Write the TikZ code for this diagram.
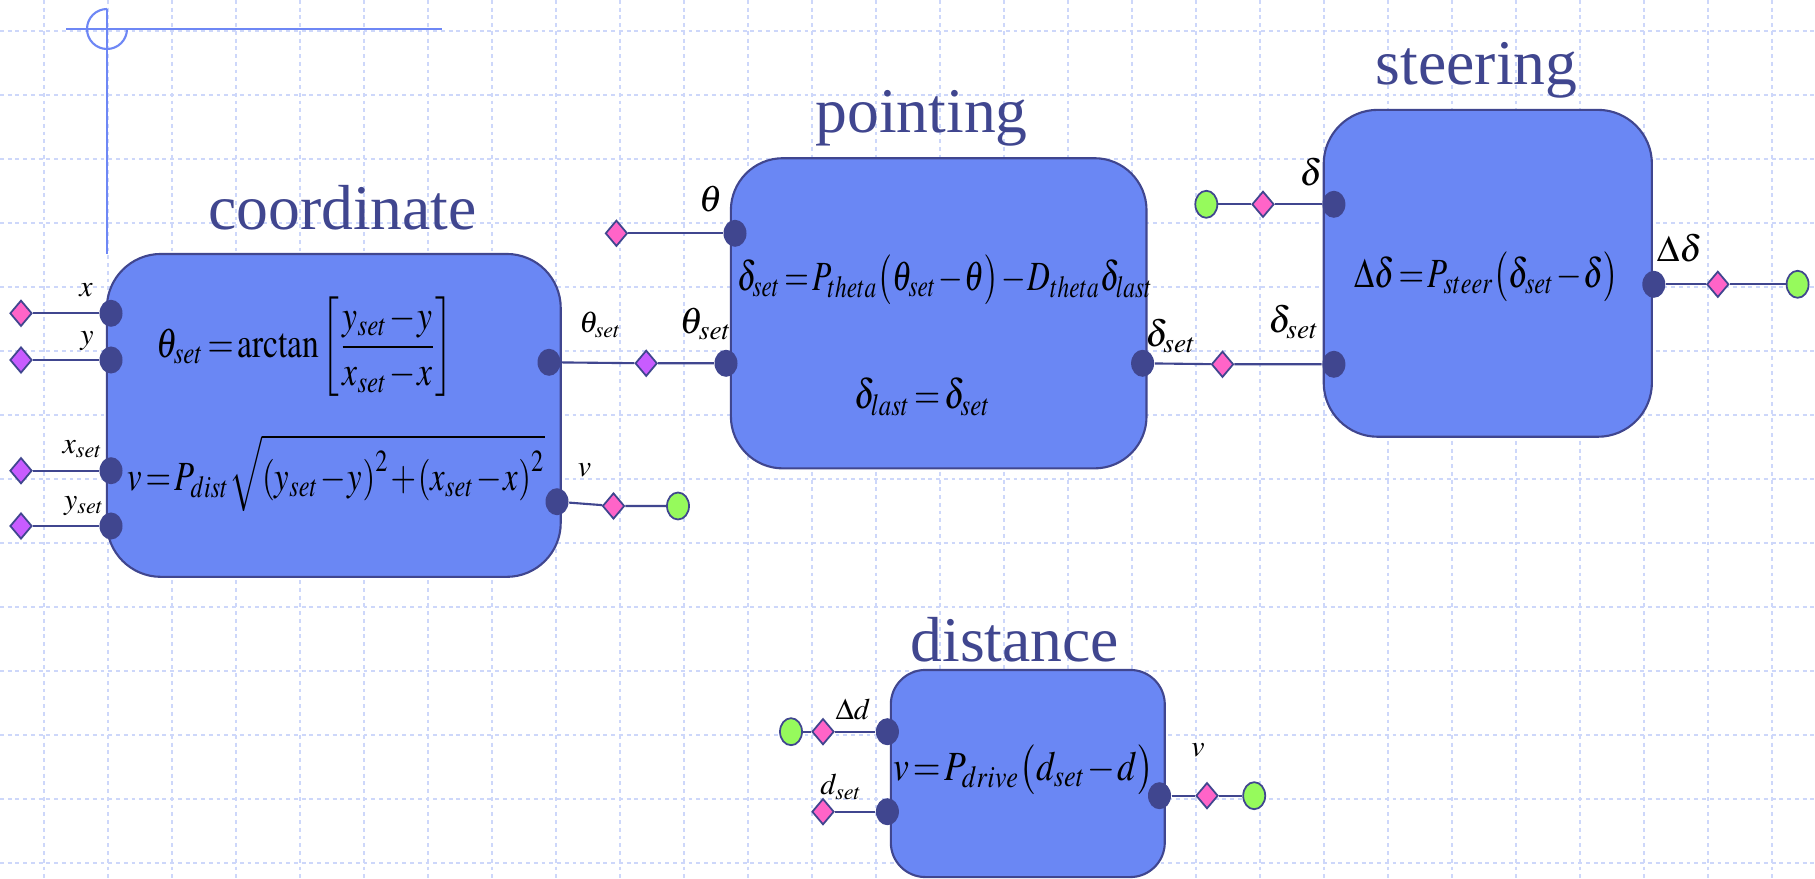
\documentclass[tikz,border=0pt]{standalone}
\usepackage{graphicx}
\usepackage{mathptmx}
\usepackage[no-math]{fontspec}
\setmainfont{Liberation Serif}
\usetikzlibrary{shapes.geometric}

\definecolor{boxfill}{RGB}{106,135,244}
\definecolor{navy}{RGB}{64,70,143}
\definecolor{pinkcol}{RGB}{255,100,200}
\definecolor{violetcol}{RGB}{200,92,255}
\definecolor{greencol}{RGB}{150,250,92}
\definecolor{axisblue}{RGB}{110,135,245}
\definecolor{gridblue}{RGB}{205,215,250}

\newcommand{\tightmu}{\thinmuskip=1mu\relax\medmuskip=1mu\relax\thickmuskip=2mu\relax}
% narrow the formulas like the old equation editor does
\newcommand{\squeeze}[2]{\scalebox{#1}[1]{$\tightmu #2$}}

\begin{document}
\begin{tikzpicture}[
        x=0.01cm, y=-0.01cm,
        block/.style={draw=navy, fill=boxfill, line width=0.6pt, inner sep=0pt},
        port/.style={ellipse, fill=navy, minimum width=0.23cm, minimum height=0.27cm, inner sep=0pt},
        dia/.style={diamond, draw=navy, line width=0.5pt, minimum width=0.22cm, minimum height=0.26cm, inner sep=0pt},
        pdia/.style={dia, fill=pinkcol},
        vdia/.style={dia, fill=violetcol},
        endpt/.style={ellipse, draw=navy, line width=0.5pt, fill=greencol, minimum width=0.22cm, minimum height=0.27cm, inner sep=0pt},
        wire/.style={draw=navy, line width=0.6pt},
        title/.style={text=navy, anchor=base, inner sep=0pt, font=\fontsize{18.1}{20}\selectfont},
        eqn/.style={inner sep=0pt, font=\fontsize{11.8}{14}\selectfont},
        lbl/.style={inner sep=0pt, font=\fontsize{10.5}{12}\selectfont},
        slbl/.style={inner sep=0pt, font=\fontsize{8.5}{10}\selectfont},
        gridline/.style={gridblue, line width=0.45pt, dash pattern=on 1.1pt off 1.1pt},
        axisline/.style={axisblue, line width=0.6pt}
        ]
      \fill[white] (0,0) rectangle (1815,879);
      \useasboundingbox (0,0) rectangle (1815,879);

      % grid
      \foreach \gx in {0,...,27}
        \draw[gridline] ({44+64*\gx},0) -- ({44+64*\gx},879);
      \foreach \gy in {0,...,13}
        \draw[gridline] (0,{31+64*\gy}) -- (1815,{31+64*\gy});

      % axis mark
      \draw[axisline] (66,29) -- (442,29);
      \draw[axisline] (107,9) arc[start angle=270, end angle=0, radius=20];
      \draw[axisline] (107,9) -- (107,254);

      % blocks
      \node[block, minimum width=4.536cm, minimum height=3.227cm, rounded corners=0.54cm] (coord) at (333.8,415.4) {};
      \node[block, minimum width=4.154cm, minimum height=3.1cm, rounded corners=0.52cm] (point) at (938.7,313.3) {};
      \node[block, minimum width=3.28cm, minimum height=3.267cm, rounded corners=0.54cm] (steer) at (1487.8,273.3) {};
      \node[block, minimum width=2.738cm, minimum height=2.07cm, rounded corners=0.345cm] (dist) at (1027.8,773.5) {};

      \node[title] (coordtitle) at (342.5,230) {coordinate};
      \node[title] (pointtitle) at (921.6,133) {pointing};
      \node[title] (steertitle) at (1476.6,85) {steering};
      \node[title] (disttitle) at (1014.9,661.7) {distance};

      % equations
      \node[eqn] (eqtheta) at (305,347) {\squeeze{0.81}{\displaystyle \theta_{set}=\arctan\left[\frac{y_{set}-y}{x_{set}-x}\right]}};
      \node[eqn] (eqv) at (336,473) {\squeeze{0.79}{v=P_{dist}\sqrt{\left(y_{set}-y\right)^2+\left(x_{set}-x\right)^2}}};
      \node[eqn] (eqdelta) at (945,280) {\squeeze{0.76}{\delta_{set}=P_{theta}\bigl(\theta_{set}-\theta\bigr)-D_{theta}\delta_{last}}};
      \node[eqn] (eqlast) at (922.5,397) {\squeeze{0.81}{\delta_{last}=\delta_{set}}};
      \node[eqn] (eqsteer) at (1486.7,277) {\squeeze{0.79}{\Delta\delta=P_{steer}\bigl(\delta_{set}-\delta\bigr)}};
      \node[eqn] (eqdrive) at (1023.4,770) {\squeeze{0.86}{v=P_{drive}\bigl(d_{set}-d\bigr)}};

      % ports
      \node[port] (cx) at (111,313.3) {};
      \node[port] (cy) at (111,360) {};
      \node[port] (cxs) at (111,470.7) {};
      \node[port] (cys) at (111,526) {};
      \node[port] (cth) at (549,362.3) {};
      \node[port] (cv) at (557,501.7) {};
      \node[port] (pth) at (735,233.3) {};
      \node[port] (pths) at (726,363.3) {};
      \node[port] (pds) at (1142.6,363.3) {};
      \node[port] (sd) at (1333.9,204.3) {};
      \node[port] (sds) at (1333.9,364.3) {};
      \node[port] (sdd) at (1653.8,284.3) {};
      \node[port] (ddd) at (887.4,731.7) {};
      \node[port] (dds) at (887.4,811.7) {};
      \node[port] (dv) at (1159.5,795.7) {};

      % pins and ends
      \node[pdia] (pinx) at (21,313.3) {};
      \node[vdia] (piny) at (21,360) {};
      \node[vdia] (pinxs) at (21,470.7) {};
      \node[vdia] (pinys) at (21,526) {};
      \node[vdia] (pinths) at (646.2,363.3) {};
      \node[pdia] (pincv) at (613.5,506) {};
      \node[endpt] (endcv) at (678,506) {};
      \node[pdia] (pinth) at (616.4,233.3) {};
      \node[pdia] (pinds) at (1222.5,364.3) {};
      \node[endpt] (endsd) at (1206.3,204.3) {};
      \node[pdia] (pinsd) at (1263,204.3) {};
      \node[pdia] (pinsdd) at (1717.8,284.3) {};
      \node[endpt] (endsdd) at (1797.6,284.3) {};
      \node[endpt] (endddd) at (791,731.7) {};
      \node[pdia] (pinddd) at (823,731.7) {};
      \node[pdia] (pindds) at (823,811.7) {};
      \node[pdia] (pindv) at (1207,795.7) {};
      \node[endpt] (enddv) at (1254.2,795.7) {};

      % labels
      \node[slbl] (lx) at (86,290) {$x$};
      \node[slbl] (ly) at (87,341) {$y$};
      \node[slbl] (lxs) at (83,449) {$x_{set}$};
      \node[slbl] (lys) at (84.5,506) {$y_{set}$};
      \node[slbl] (lcth) at (600.7,325) {$\theta_{set}$};
      \node[slbl] (lcv) at (584.5,470) {$v$};
      \node[lbl] (lpth) at (710.7,199) {$\theta$};
      \node[lbl] (lpths) at (706,324) {$\theta_{set}$};
      \node[lbl] (lpds) at (1171,336) {$\delta_{set}$};
      \node[lbl] (lsd) at (1311,172.5) {$\delta$};
      \node[lbl] (lsds) at (1294,322) {$\delta_{set}$};
      \node[lbl] (lsdd) at (1679.5,247.7) {$\Delta\delta$};
      \node[slbl] (lddd) at (853,709.5) {$\Delta d$};
      \node[slbl] (ldds) at (841.5,787) {$d_{set}$};
      \node[slbl] (ldv) at (1198,750) {$v$};

      % wires
      \draw[wire] (pinx) -- (cx);
      \draw[wire] (piny) -- (cy);
      \draw[wire] (pinxs) -- (cxs);
      \draw[wire] (pinys) -- (cys);
      \draw[wire] (cth) -- (pinths) -- (pths);
      \draw[wire] (cv) -- (pincv) -- (endcv);
      \draw[wire] (pinth) -- (pth);
      \draw[wire] (pds) -- (pinds) -- (sds);
      \draw[wire] (endsd) -- (pinsd) -- (sd);
      \draw[wire] (sdd) -- (pinsdd) -- (endsdd);
      \draw[wire] (endddd) -- (pinddd) -- (ddd);
      \draw[wire] (pindds) -- (dds);
      \draw[wire] (dv) -- (pindv) -- (enddv);

    \end{tikzpicture}
\end{document}
